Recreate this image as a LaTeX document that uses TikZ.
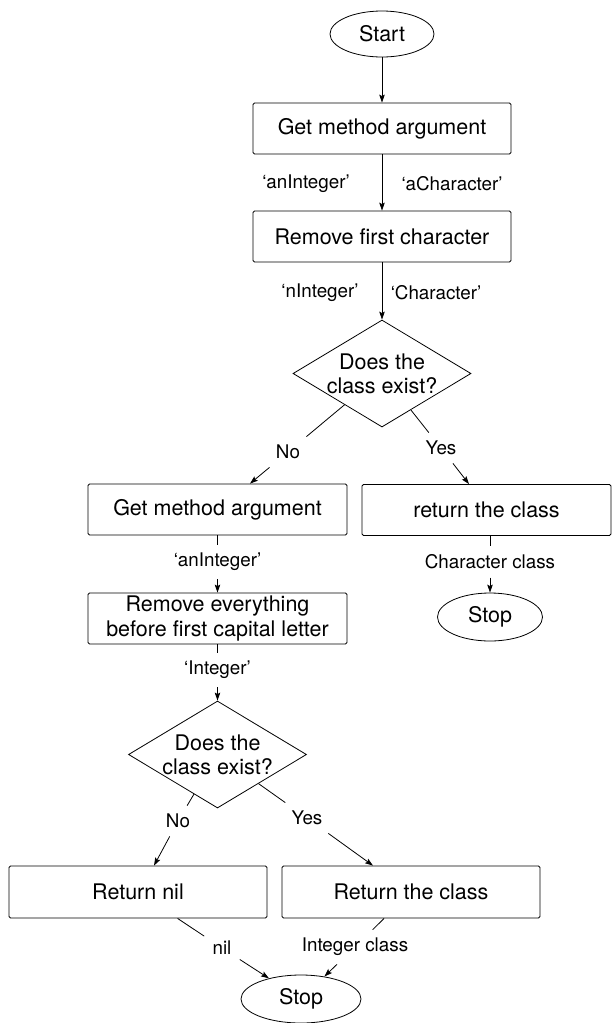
\documentclass[tikz,border=0pt]{standalone}
\usepackage{fontspec}
\setmainfont{TeX Gyre Heros}
\usetikzlibrary{shapes.geometric,arrows.meta}

\tikzset{
  term/.style={draw, ellipse, minimum width=104pt, minimum height=46pt, inner sep=0pt, font=\fontsize{21.5}{25}\selectfont},
  proc/.style={draw, rectangle, rounded corners=1.5pt, minimum width=258pt, minimum height=51pt, inner sep=2pt, align=center, font=\fontsize{21.5}{25}\selectfont},
  decide/.style={draw, diamond, aspect=1.68, inner sep=0pt, minimum width=178pt, minimum height=107pt, align=center, font=\fontsize{21.5}{24}\selectfont},
  lbl/.style={inner sep=8pt, font=\fontsize{18.8}{22}\selectfont},
  flow/.style={-{Stealth[length=8pt,width=5.5pt,inset=1.5pt]}},
}

\begin{document}
\begin{tikzpicture}[x=1pt, y=-1pt, line width=0.8pt]
  \useasboundingbox (0,0) rectangle (612,1023);

  % main column
  \node[term] (start) at (382, 34) {Start};
  \node[proc] (get1) at (382, 128.5) {Get method argument};
  \node[proc] (rem1) at (382, 236.5) {Remove first character};
  \node[decide] (dec1) at (382, 373.5) {Does the\\class exist?};
  \draw[flow] (start) -- (get1);
  \draw[flow] (get1) -- (rem1);
  \node[lbl] (anint1) at (306, 184) {‘anInteger’};
  \node[lbl] (achar) at (452, 184) {‘aCharacter’};
  \draw[flow] (rem1) -- (dec1);
  \node[lbl] (nint) at (320, 293) {‘nInteger’};
  \node[lbl] (char) at (436, 293) {‘Character’};

  % yes branch
  \node[lbl] (yes1) at (441, 448) {Yes};
  \node[proc, minimum width=249pt] (ret1) at (486.5, 510) {return the class};
  \draw (dec1) -- (yes1);
  \draw[flow] (yes1) -- ([xshift=-17.5pt]ret1.north);
  \node[lbl] (charcls) at (490, 562) {Character class};
  \node[term, minimum width=105pt, minimum height=48pt] (stop1) at (490, 617) {Stop};
  \draw (ret1.south -| charcls) -- (charcls);
  \draw[flow] (charcls) -- (stop1);

  % no branch
  \node[lbl] (no1) at (288, 452) {No};
  \node[proc, minimum width=259pt] (get2) at (217.5, 509.5) {Get method argument};
  \draw (dec1) -- (no1);
  \draw[flow] (no1) -- ([xshift=32.5pt]get2.north);
  \node[lbl] (anint2) at (217.5, 562) {‘anInteger’};
  \node[proc, minimum width=259pt] (rem2) at (217.5, 618.5) {Remove everything\\before first capital letter};
  \draw (get2) -- (anint2);
  \draw[flow] (anint2) -- (rem2);
  \node[lbl] (int) at (217.5, 670) {‘Integer’};
  \node[decide] (dec2) at (217.5, 754.5) {Does the\\class exist?};
  \draw (rem2) -- (int);
  \draw[flow] (int) -- (dec2);

  % second decision
  \node[lbl] (no2) at (178, 821) {No};
  \node[lbl] (yes2) at (307, 818) {Yes};
  \node[proc, minimum height=52pt] (nilbox) at (138, 892) {Return nil};
  \node[proc, minimum height=52pt] (retcls) at (411, 892) {Return the class};
  \draw (dec2) -- (no2);
  \draw[flow] (no2) -- ([xshift=16pt]nilbox.north);
  \draw (dec2) -- (yes2);
  \draw[flow] (yes2) -- ([xshift=-38pt]retcls.north);

  % end
  \node[lbl] (nil) at (222, 948) {nil};
  \node[lbl] (intcls) at (355, 947) {Integer class};
  \node[term, minimum width=120pt, minimum height=48pt] (stop2) at (301, 999) {Stop};
  \draw (nilbox) -- (nil);
  \draw[flow] (nil) -- (stop2);
  \draw (retcls) -- (intcls);
  \draw[flow] (intcls) -- (stop2);
\end{tikzpicture}
\end{document}
